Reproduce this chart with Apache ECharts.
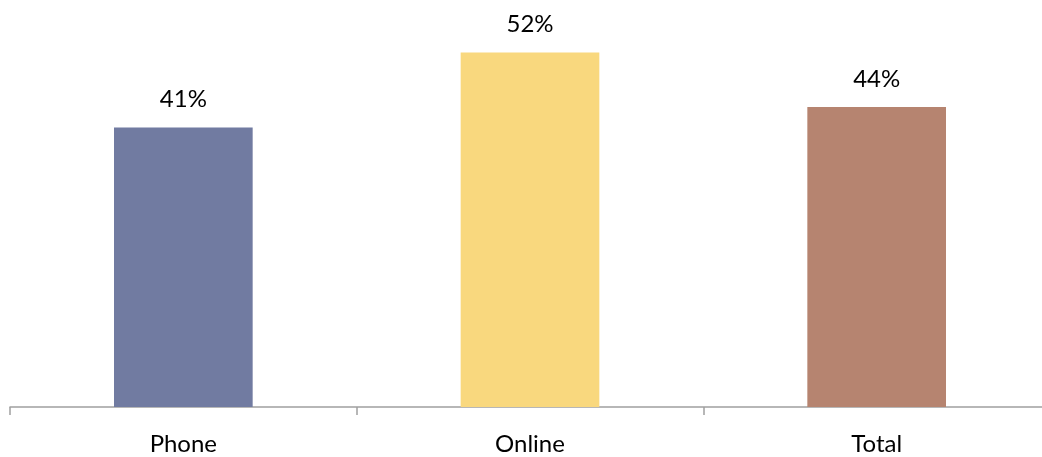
<!DOCTYPE html>
<html>
<head>
<meta charset="utf-8">
<script src="https://cdn.jsdelivr.net/npm/echarts@6/dist/echarts.min.js"></script>
<style>
  html, body { margin: 0; padding: 0; background: #ffffff; }
  #chart { width: 1042px; height: 457px; }
</style>
</head>
<body>
<div id="chart"></div>
<script>
// Share of respondents by survey mode
const categories = ['Phone', 'Online', 'Total'];
const values = [41, 52, 44];
const barColors = ['#717ba1', '#f9d87e', '#b68470'];

const chart = echarts.init(document.getElementById('chart'), null, { renderer: 'canvas' });

chart.setOption({
  animation: false,
  backgroundColor: '#ffffff',
  grid: {
    left: 10, width: 1040, top: -2, height: 409,
    containLabel: false,
    outerBoundsMode: 'none'
  },
  xAxis: {
    type: 'category',
    data: categories,
    axisLine: { lineStyle: { color: '#a0a0a0', width: 1.5 } },
    axisTick: { show: true, length: 8, lineStyle: { color: '#a0a0a0', width: 1.5 } },
    axisLabel: {
      color: '#000000',
      fontFamily: 'Lato, "Open Sans", sans-serif',
      fontSize: 24,
      margin: 25
    }
  },
  yAxis: {
    type: 'value',
    min: 0,
    max: 60,
    show: false,
    splitLine: { show: false }
  },
  series: [{
    type: 'bar',
    barWidth: '40%',
    data: values.map((v, i) => ({ value: v, itemStyle: { color: barColors[i] } })),
    label: {
      show: true,
      position: 'top',
      distance: 16,
      color: '#000000',
      fontFamily: 'Lato, "Open Sans", sans-serif',
      fontSize: 24,
      formatter: p => p.value + '%'
    }
  }]
});
</script>
</body>
</html>
